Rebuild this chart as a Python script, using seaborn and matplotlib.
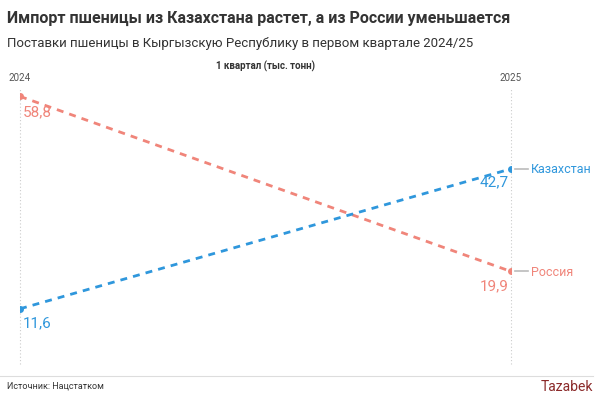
import matplotlib
matplotlib.use("Agg")
import matplotlib.pyplot as plt
import seaborn as sns
import pandas as pd

years = ["2024", "2025"]
russia = [58.8, 19.9]
kazakhstan = [11.6, 42.7]
series_names = ["Россия", "Казахстан"]
colors = {"Россия": "#f0857a", "Казахстан": "#2f97dc"}

df = pd.DataFrame({
    "x": [0, 1, 0, 1],
    "value": russia + kazakhstan,
    "country": ["Россия"] * 2 + ["Казахстан"] * 2,
})

plt.rcParams["font.family"] = "Roboto"
fig = plt.figure(figsize=(6, 4.02), dpi=100)
ax = fig.add_axes([20/600, 40/402, (511-20)/600, (362-90)/402])
ax.set_xlim(0, 1)
ax.set_ylim(0, (362-90)/4.5)
for xv in [0, 1]:
    ax.axvline(xv, ymin=-0.01, ymax=1, color="#cccccc", lw=0.8, ls=(0, (1, 2)), clip_on=False)
sns.lineplot(data=df, x="x", y="value", hue="country", palette=colors, ax=ax,
             lw=2.0, legend=False, marker="o", markersize=5, markeredgewidth=0)
for line in ax.lines[2:]:
    line.set_dashes([2.5, 2.2])
for s in ax.spines.values():
    s.set_visible(False)
ax.set_xticks([]); ax.set_yticks([])
ax.set_xlabel(""); ax.set_ylabel("")

ax.text(0.005, russia[0] - 1.8, "58,8", color=colors["Россия"], fontsize=11, va="top", ha="left")
ax.text(0.005, kazakhstan[0] - 1.5, "11,6", color=colors["Казахстан"], fontsize=11, va="top", ha="left")
ax.text(0.995, russia[1] - 1.5, "19,9", color=colors["Россия"], fontsize=11, va="top", ha="right")
ax.text(0.995, kazakhstan[1] - 1.2, "42,7", color=colors["Казахстан"], fontsize=11, va="top", ha="right")
for name, v in [("Россия", russia[1]), ("Казахстан", kazakhstan[1])]:
    ax.plot([1.008, 1.035], [v, v], color="#bbbbbb", lw=1.2, clip_on=False)
    ax.text(1.04, v, name, color=colors[name], fontsize=9, va="center", ha="left")

fig.text(20/600, 1-78/402, years[0], fontsize=7, color="#555555", ha="center", va="center")
fig.text(511/600, 1-78/402, years[1], fontsize=7, color="#555555", ha="center", va="center")
fig.text(265/600, 1-66/402, "1 квартал (тыс. тонн)", fontsize=7, fontweight="bold", color="#333333", ha="center", va="center")
fig.text(7/600, 1-18/402, "Импорт пшеницы из Казахстана растет, а из России уменьшается",
         fontsize=11.5, fontweight="bold", color="#333333", va="center")
fig.text(7/600, 1-44/402, "Поставки пшеницы в Кыргызскую Республику в первом квартале 2024/25",
         fontsize=9.5, color="#333333", va="center")
fig.add_artist(plt.Line2D([0, 593/600], [1-377/402]*2, color="#dddddd", lw=0.8))
fig.text(7/600, 1-386/402, "Источник: Нацстатком", fontsize=6.5, color="#333333", va="center")
fig.text(593/600, 1-387/402, "Tazabek", fontsize=10, color="#8b2a2a", ha="right", va="center")
fig.savefig("out.png", dpi=100)
